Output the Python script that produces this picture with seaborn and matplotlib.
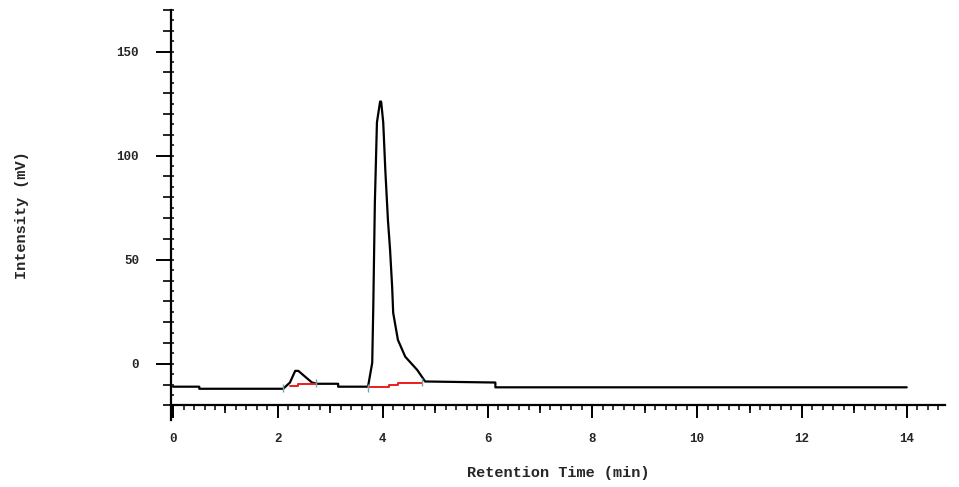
import matplotlib
matplotlib.use("Agg")
import matplotlib.pyplot as plt
from matplotlib.ticker import MultipleLocator, FixedLocator, NullFormatter
import seaborn as sns
import pandas as pd

# Chromatogram signal (retention time in min, intensity in mV)
time_min = [0.00, 0.50, 0.50, 2.10, 2.23, 2.33, 2.39, 2.65, 2.75, 3.15, 3.15,
            3.72, 3.80, 3.82, 3.85, 3.89, 3.95, 3.97, 4.01, 4.05, 4.10, 4.14,
            4.18, 4.20, 4.29, 4.43, 4.66, 4.81, 6.15, 6.15, 14.00]
intensity_mv = [-11.0, -11.0, -12.0, -12.0, -9.0, -3.4, -3.4, -9.0, -9.6, -9.6, -11.0,
                -11.0, 0.5, 27.0, 77.0, 116.0, 126.0, 126.0, 116.0, 93.0, 69.0, 55.0,
                37.0, 24.5, 11.5, 3.4, -3.0, -8.5, -9.0, -11.3, -11.3]

# Integration baselines (red)
base1_time = [2.23, 2.38, 2.38, 2.72]
base1_mv = [-10.9, -10.9, -9.8, -9.8]
base2_time = [3.72, 4.12, 4.12, 4.30, 4.30, 4.75]
base2_mv = [-11.0, -11.0, -10.0, -10.0, -9.2, -9.2]

# Peak start/end markers
mark_time = [2.10, 2.72, 3.72, 4.75]
mark_mv = [-11.8, -9.0, -11.5, -8.6]

x_ticks = [0, 2, 4, 6, 8, 10, 12, 14]
y_ticks = [0, 50, 100, 150]

sns.set_theme(style="white")
plt.rcParams["font.family"] = ["Liberation Mono", "DejaVu Sans Mono"]
plt.rcParams["font.weight"] = "bold"

fig = plt.figure(figsize=(9.59, 4.87), dpi=100)
ax = fig.add_axes([0.1783, 0.1376, 0.8071, 0.8419])

sig = pd.DataFrame({"t": time_min, "v": intensity_mv})
sns.lineplot(data=sig, x="t", y="v", sort=False, estimator=None,
             color="black", linewidth=1.6, ax=ax)
b1 = pd.DataFrame({"t": base1_time, "v": base1_mv})
b2 = pd.DataFrame({"t": base2_time, "v": base2_mv})
sns.lineplot(data=b1, x="t", y="v", sort=False, estimator=None,
             color="#ee1c1c", linewidth=1.4, ax=ax)
sns.lineplot(data=b2, x="t", y="v", sort=False, estimator=None,
             color="#ee1c1c", linewidth=1.4, ax=ax)
ax.plot(mark_time, mark_mv, linestyle="none", marker="|", markersize=6,
        color="#6fa8a8", markeredgewidth=1.0)

ax.set_xlim(-0.04, 14.73)
ax.set_ylim(-27, 170)

for s in ["top", "right"]:
    ax.spines[s].set_visible(False)
ax.spines["bottom"].set_position(("data", -20))
ax.spines["left"].set_position(("data", -0.04))
for s in ["bottom", "left"]:
    ax.spines[s].set_color("black")
    ax.spines[s].set_linewidth(1.6)

ax.xaxis.set_major_locator(FixedLocator(x_ticks))
ax.xaxis.set_minor_locator(MultipleLocator(1))
ax.yaxis.set_major_locator(FixedLocator(y_ticks))
ax.yaxis.set_minor_locator(MultipleLocator(10))

ax.tick_params(axis="x", which="major", direction="out", length=9.5, width=1.4,
               color="black", pad=10, labelsize=9, bottom=True)
ax.tick_params(axis="x", which="minor", direction="out", length=6, width=1.2,
               color="black", bottom=True)
ax.tick_params(axis="y", which="major", direction="out", length=11, width=1.4,
               color="black", pad=12, labelsize=9, left=True)
ax.tick_params(axis="y", which="minor", direction="out", length=6, width=1.2,
               color="black", left=True)

# fine ticks
secx = ax.secondary_xaxis((-20 + 27) / 197)
secx.xaxis.set_major_locator(MultipleLocator(0.2))
secx.xaxis.set_major_formatter(NullFormatter())
secx.tick_params(axis="x", direction="out", length=3.5, width=1.1, color="black")
secx.spines["bottom"].set_visible(False)

secy = ax.secondary_yaxis(0.0)
secy.yaxis.set_major_locator(MultipleLocator(5))
secy.yaxis.set_major_formatter(NullFormatter())
secy.tick_params(axis="y", direction="in", length=2.5, width=1.1, color="black")
secy.spines["left"].set_visible(False)

for lbl in ax.get_xticklabels() + ax.get_yticklabels():
    lbl.set_fontweight("bold")

ax.set_xlabel("Retention Time (min)", fontsize=11, fontweight="bold")
ax.set_ylabel("Intensity (mV)", fontsize=11, fontweight="bold")
ax.xaxis.set_label_coords(0.5, -0.112)
ax.yaxis.set_label_coords(-0.184, 0.5)

fig.savefig("out.png", dpi=100)
